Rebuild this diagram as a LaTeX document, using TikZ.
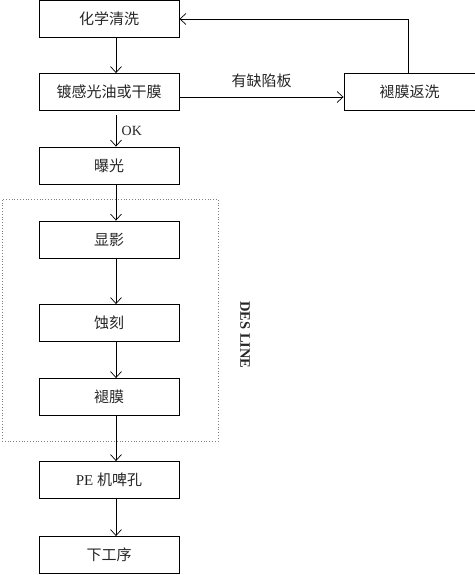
\documentclass[tikz,border=0pt]{standalone}
\usepackage{fontspec}
\setmainfont{Liberation Serif}
\newfontfamily\cjk{Noto Sans CJK SC}
\usetikzlibrary{arrows.meta}
\begin{document}
\begin{tikzpicture}[x=1pt,y=-1pt,
  proc/.style={draw, line width=0.9pt, minimum width=140pt, minimum height=37pt, inner sep=0pt, font=\cjk\fontsize{15}{17}\selectfont, text=black!85},
  arr/.style={-{Straight Barb[length=6pt,width=11pt]}, line width=0.7pt},
  lbl/.style={font=\cjk\fontsize{15}{17}\selectfont, text=black!85}]
\useasboundingbox (0,0) rectangle (474,575);
\node[draw=gray, dotted, line width=0.8pt, minimum width=216pt, minimum height=242pt, inner sep=0pt] (des) at (110,320) {};
\node[proc] (a) at (109,18.5) {化学清洗};
\node[proc] (b) at (109,92) {镀感光油或干膜};
\node[proc, minimum width=131pt] (r) at (409.5,92) {褪膜返洗};
\node[proc] (c) at (109,165.5) {曝光};
\node[proc] (d) at (109,239.5) {显影};
\node[proc] (e) at (109,323) {蚀刻};
\node[proc] (f) at (109,397) {褪膜};
\node[proc] (g) at (109,480) {\rmfamily PE \cjk 机啤孔};
\node[proc] (h) at (109,555) {下工序};
\coordinate (bs) at ([yshift=-4pt]b.south);
\draw[arr] (a.south -| 116,0) -- (b.north -| 116,0);
\draw[arr] (bs -| 116,0) -- (c.north -| 116,0) node[midway, right=2pt, font=\rmfamily\fontsize{14}{16}\selectfont, text=black!85] {OK};
\draw[arr] (c.south -| 116,0) -- (d.north -| 116,0);
\draw[arr] (d.south -| 116,0) -- (e.north -| 116,0);
\draw[arr] (e.south -| 116,0) -- (f.north -| 116,0);
\draw[arr] (f.south -| 116,0) -- (g.north -| 116,0);
\draw[arr] (g.south -| 116,0) -- (h.north -| 116,0);
\draw[arr] ([yshift=-5pt]b.east) -- ([yshift=-5pt]b.east -| r.west) node[midway, above=6pt, lbl] {有缺陷板};
\draw[arr] (r.north -| 408,0) -- (408,19) -- (a.east |- 0,19);
\node[rotate=-90, font=\rmfamily\bfseries\fontsize{14.5}{16}\selectfont, text=black!85] (t) at (245,335) {DES LINE};
\end{tikzpicture}
\end{document}
